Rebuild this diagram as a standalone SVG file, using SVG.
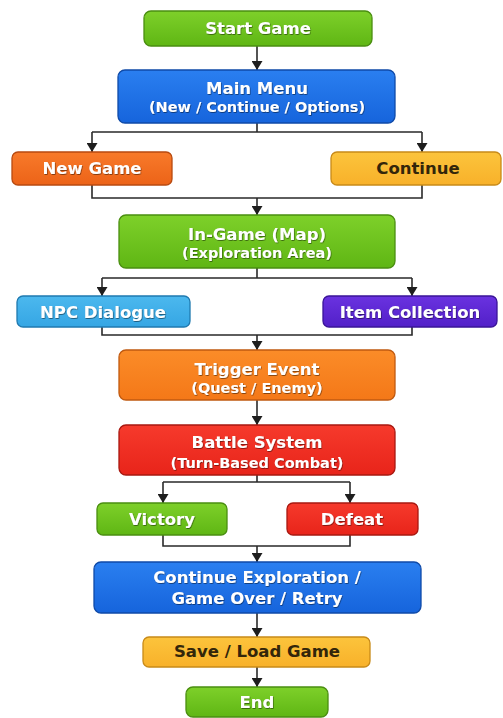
<svg xmlns="http://www.w3.org/2000/svg" width="503" height="718" viewBox="0 0 503 718">
<defs>
<marker id="arrd" markerUnits="userSpaceOnUse" markerWidth="11" markerHeight="9" viewBox="0 0 11 9" refX="5.5" refY="9" orient="0">
<path d="M0,0 L11,0 L5.5,9 Z" fill="#1e1e1e"/>
</marker>
<linearGradient id="gGreen" x1="0" y1="0" x2="0" y2="1"><stop offset="0" stop-color="#7ed02a"/><stop offset="1" stop-color="#5fb614"/></linearGradient>
<linearGradient id="gBlue" x1="0" y1="0" x2="0" y2="1"><stop offset="0" stop-color="#2a7ff0"/><stop offset="1" stop-color="#1664dc"/></linearGradient>
<linearGradient id="gOrange" x1="0" y1="0" x2="0" y2="1"><stop offset="0" stop-color="#f87a2a"/><stop offset="1" stop-color="#ec6318"/></linearGradient>
<linearGradient id="gYellow" x1="0" y1="0" x2="0" y2="1"><stop offset="0" stop-color="#fcc43c"/><stop offset="1" stop-color="#f8b12a"/></linearGradient>
<linearGradient id="gLBlue" x1="0" y1="0" x2="0" y2="1"><stop offset="0" stop-color="#4cb8ee"/><stop offset="1" stop-color="#35a6e4"/></linearGradient>
<linearGradient id="gPurple" x1="0" y1="0" x2="0" y2="1"><stop offset="0" stop-color="#6a32e0"/><stop offset="1" stop-color="#5220c8"/></linearGradient>
<linearGradient id="gTrig" x1="0" y1="0" x2="0" y2="1"><stop offset="0" stop-color="#fb8c28"/><stop offset="1" stop-color="#f47818"/></linearGradient>
<linearGradient id="gRed" x1="0" y1="0" x2="0" y2="1"><stop offset="0" stop-color="#f63a2c"/><stop offset="1" stop-color="#e8241a"/></linearGradient>
<filter id="ts" x="-10%" y="-30%" width="120%" height="160%"><feDropShadow dx="0.6" dy="0.8" stdDeviation="0.6" flood-color="#000" flood-opacity="0.55"/></filter>
</defs>
<style>
.box{stroke-width:1.3}
.t{font-family:"DejaVu Sans",Verdana,sans-serif;font-weight:bold;font-size:16.5px;fill:#fff;text-anchor:middle;dominant-baseline:central;filter:url(#ts)}
.s{font-size:14.5px}
.dk{fill:#33260a;filter:none}
.c{fill:none;stroke:#2a2a2a;stroke-width:1.6}
</style>
<g id="connectors">
<path class="c" d="M257,46 V70" marker-end="url(#arrd)"/>
<path class="c" d="M257,123 V132 M92,132 H422"/>
<path class="c" d="M92,132 V152" marker-end="url(#arrd)"/>
<path class="c" d="M422,132 V152" marker-end="url(#arrd)"/>
<path class="c" d="M92,185 V198 H422 V185"/>
<path class="c" d="M257,198 V215" marker-end="url(#arrd)"/>
<path class="c" d="M257,268 V278 M102,278 H412"/>
<path class="c" d="M102,278 V296" marker-end="url(#arrd)"/>
<path class="c" d="M412,278 V296" marker-end="url(#arrd)"/>
<path class="c" d="M102,327 V335 H412 V327"/>
<path class="c" d="M257,335 V350" marker-end="url(#arrd)"/>
<path class="c" d="M257,400 V425" marker-end="url(#arrd)"/>
<path class="c" d="M257,475 V482 M163,482 H350"/>
<path class="c" d="M163,482 V503" marker-end="url(#arrd)"/>
<path class="c" d="M350,482 V503" marker-end="url(#arrd)"/>
<path class="c" d="M163,535 V546 H350 V535"/>
<path class="c" d="M257,546 V562" marker-end="url(#arrd)"/>
<path class="c" d="M257,613 V637" marker-end="url(#arrd)"/>
<path class="c" d="M257,667 V687" marker-end="url(#arrd)"/>
</g>
<g id="start">
<rect class="box" x="144" y="11" width="228" height="35" rx="7" fill="url(#gGreen)" stroke="#4a8e10"/>
<text class="t" x="258" y="28.5">Start Game</text>
</g>
<g id="mainmenu">
<rect class="box" x="118" y="70" width="277" height="53" rx="7" fill="url(#gBlue)" stroke="#0f4aa8"/>
<text class="t" x="257" y="88">Main Menu</text>
<text class="t s" x="257" y="107">(New / Continue / Options)</text>
</g>
<g id="newgame">
<rect class="box" x="12" y="152" width="160" height="33" rx="6" fill="url(#gOrange)" stroke="#b84a10"/>
<text class="t" x="92" y="168.5">New Game</text>
</g>
<g id="continue">
<rect class="box" x="331" y="152" width="170" height="33" rx="6" fill="url(#gYellow)" stroke="#c88a18"/>
<text class="t dk" x="418" y="168.5">Continue</text>
</g>
<g id="ingame">
<rect class="box" x="119" y="215" width="276" height="53" rx="7" fill="url(#gGreen)" stroke="#4a8e10"/>
<text class="t" x="257" y="234">In-Game (Map)</text>
<text class="t s" x="257" y="253">(Exploration Area)</text>
</g>
<g id="npc">
<rect class="box" x="17" y="296" width="173" height="31" rx="6" fill="url(#gLBlue)" stroke="#1f7ab0"/>
<text class="t" x="103" y="312">NPC Dialogue</text>
</g>
<g id="item">
<rect class="box" x="323" y="296" width="174" height="31" rx="6" fill="url(#gPurple)" stroke="#3a1498"/>
<text class="t" x="410" y="312">Item Collection</text>
</g>
<g id="trigger">
<rect class="box" x="119" y="350" width="276" height="50" rx="7" fill="url(#gTrig)" stroke="#c05a10"/>
<text class="t" x="257" y="369">Trigger Event</text>
<text class="t s" x="257" y="388">(Quest / Enemy)</text>
</g>
<g id="battle">
<rect class="box" x="119" y="425" width="276" height="50" rx="7" fill="url(#gRed)" stroke="#a81810"/>
<text class="t" x="257" y="442">Battle System</text>
<text class="t s" x="257" y="463">(Turn-Based Combat)</text>
</g>
<g id="victory">
<rect class="box" x="97" y="503" width="130" height="32" rx="6" fill="url(#gGreen)" stroke="#4a8e10"/>
<text class="t" x="162" y="519">Victory</text>
</g>
<g id="defeat">
<rect class="box" x="287" y="503" width="131" height="32" rx="6" fill="url(#gRed)" stroke="#a81810"/>
<text class="t" x="352" y="519">Defeat</text>
</g>
<g id="contexp">
<rect class="box" x="94" y="562" width="327" height="51" rx="7" fill="url(#gBlue)" stroke="#0f4aa8"/>
<text class="t" x="257" y="577">Continue Exploration /</text>
<text class="t" x="257" y="598">Game Over / Retry</text>
</g>
<g id="saveload">
<rect class="box" x="143" y="637" width="227" height="30" rx="6" fill="url(#gYellow)" stroke="#c88a18"/>
<text class="t dk" x="257" y="651.5">Save / Load Game</text>
</g>
<g id="end">
<rect class="box" x="186" y="687" width="142" height="30" rx="7" fill="url(#gGreen)" stroke="#4a8e10"/>
<text class="t" x="257" y="702.5">End</text>
</g>
</svg>
